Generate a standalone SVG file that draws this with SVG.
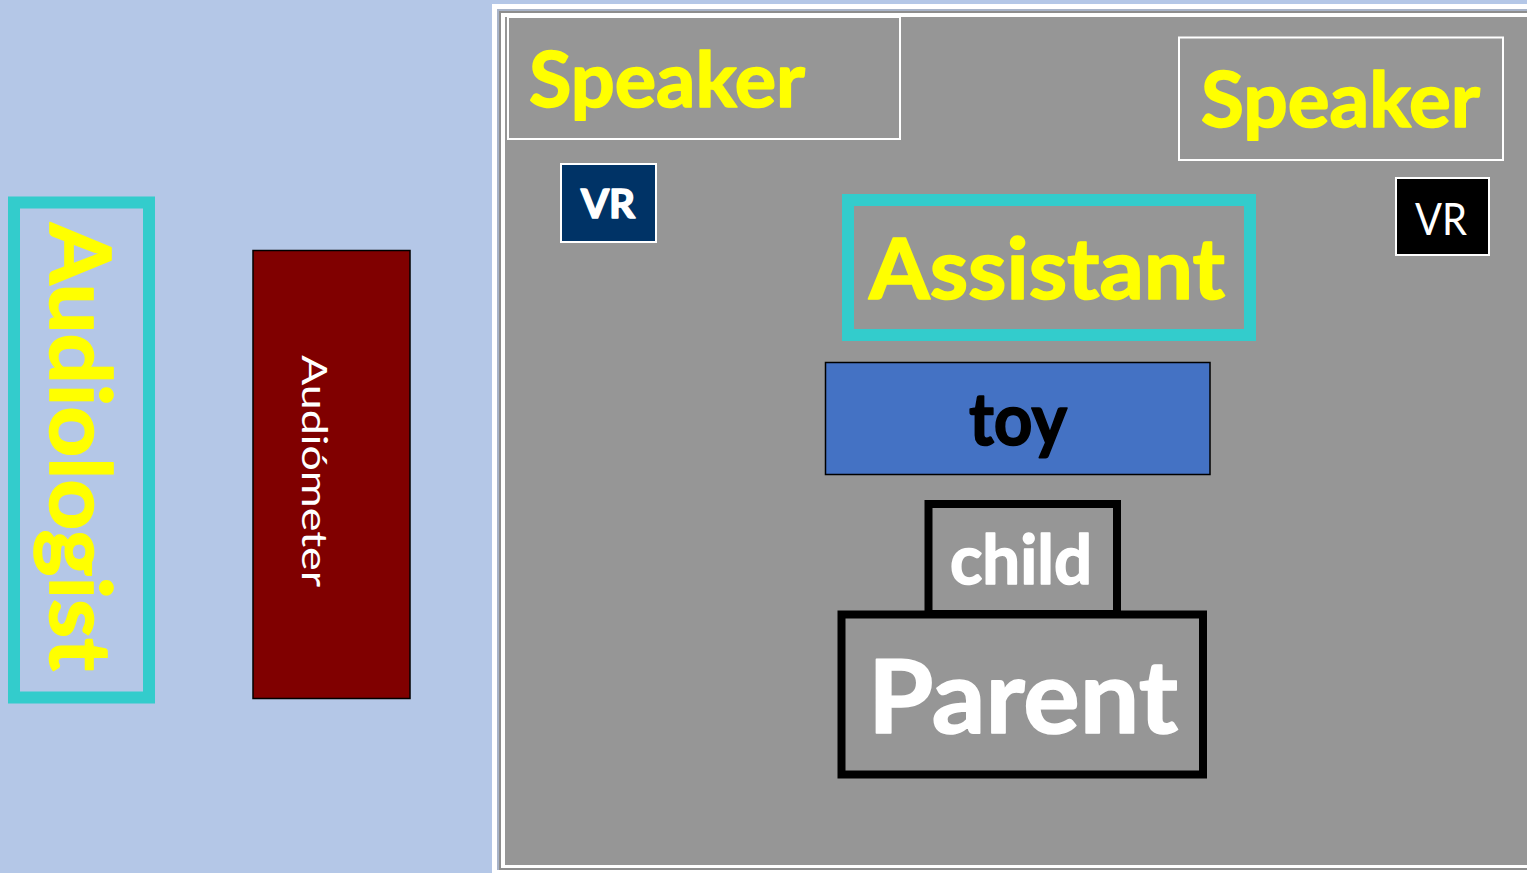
<svg xmlns="http://www.w3.org/2000/svg" width="1527" height="873" viewBox="0 0 1527 873">
<style>
  .b { font-family: Lato, "Open Sans", "Liberation Sans", sans-serif; font-weight: 700; stroke-width: 1.6; stroke-linejoin: round; }
  .r { font-family: Lato, "Open Sans", "Liberation Sans", sans-serif; font-weight: 400; }
  .yel { fill: #FFFF00; stroke: #FFFF00; }
  .wht { fill: #FFFFFF; }
  .b.wht { stroke: #FFFFFF; }
  .blk { fill: #000000; stroke: #000000; }
  .spk { fill: none; stroke: #FFFFFF; stroke-width: 2; }
  .cyan { fill: none; stroke: #33CCCC; stroke-width: 12; }
  .thick { fill: #969696; stroke: #000000; stroke-width: 8; }
</style>
<rect x="0" y="0" width="1527" height="873" fill="#B4C7E7"/>
<g id="room">
  <rect x="492" y="4" width="1100" height="900" fill="#FFFFFF"/>
  <rect x="497" y="9" width="1100" height="861" fill="#A9B4C8"/>
  <rect x="499" y="11" width="1100" height="859" fill="#8E8E8E"/>
  <rect x="501" y="13" width="1100" height="855" fill="#FFFFFF"/>
  <rect x="505" y="17" width="1100" height="848" fill="#969696"/>
</g>
<g id="connectors"></g>
<g id="audiologist">
  <rect class="cyan" x="14" y="202.5" width="135" height="495"/>
  <text class="b yel" font-size="85" transform="translate(50,223) rotate(90)" textLength="448" lengthAdjust="spacingAndGlyphs">Audiologist</text>
</g>
<g id="audiometer">
  <rect x="253" y="250.5" width="157" height="448" fill="#800000" stroke="#000000" stroke-width="1.5"/>
  <text class="r wht" font-size="34" transform="translate(302,355) rotate(90)" textLength="232" lengthAdjust="spacingAndGlyphs">Audiómeter</text>
</g>
<g id="speaker1">
  <rect class="spk" x="508" y="17" width="392" height="122"/>
  <text class="b yel" x="529" y="107" font-size="77" textLength="276" lengthAdjust="spacingAndGlyphs">Speaker</text>
</g>
<g id="speaker2">
  <rect class="spk" x="1179" y="37.5" width="324" height="122.5"/>
  <text class="b yel" x="1201" y="127" font-size="77" textLength="279" lengthAdjust="spacingAndGlyphs">Speaker</text>
</g>
<g id="vr1">
  <rect x="561" y="164" width="95" height="78" fill="#003366" stroke="#FFFFFF" stroke-width="2"/>
  <text class="b wht" x="581" y="218" font-size="40" textLength="54" lengthAdjust="spacingAndGlyphs">VR</text>
</g>
<g id="vr2">
  <rect x="1396" y="178" width="93" height="77" fill="#000000" stroke="#FFFFFF" stroke-width="2"/>
  <text class="r wht" x="1415" y="235" font-size="45" textLength="52" lengthAdjust="spacingAndGlyphs">VR</text>
</g>
<g id="assistant">
  <rect class="cyan" x="848" y="200" width="402" height="135"/>
  <text class="b yel" x="869" y="299" font-size="84" textLength="356" lengthAdjust="spacingAndGlyphs">Assistant</text>
</g>
<g id="toy">
  <rect x="825.5" y="362.5" width="384.5" height="112" fill="#4472C4" stroke="#000000" stroke-width="1.5"/>
  <text class="b blk" x="969" y="445" font-size="73" textLength="98" lengthAdjust="spacingAndGlyphs">toy</text>
</g>
<g id="child">
  <rect class="thick" x="928.5" y="504" width="188.5" height="110"/>
  <text class="b wht" x="950" y="584" font-size="69" textLength="142" lengthAdjust="spacingAndGlyphs">child</text>
</g>
<g id="parent">
  <rect class="thick" x="841.5" y="614.5" width="361.5" height="160"/>
  <text class="b wht" x="868" y="733" font-size="102" textLength="310" lengthAdjust="spacingAndGlyphs">Parent</text>
</g>
</svg>
